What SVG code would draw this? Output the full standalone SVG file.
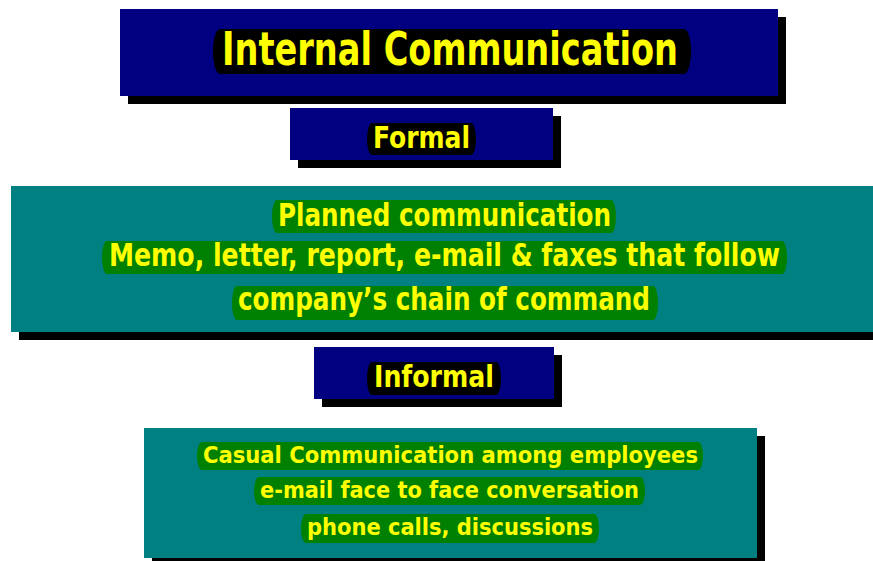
<svg xmlns="http://www.w3.org/2000/svg" width="873" height="561" viewBox="0 0 873 561">
<style>
.shadow{fill:#000000}
.navy{fill:#000080}
.teal{fill:#008080}
.hlb{fill:#000000}
.hlg{fill:#008000}
text{font-family:"Liberation Sans Narrow","DejaVu Sans Condensed","Liberation Sans",sans-serif;font-weight:bold;font-stretch:condensed;fill:#FFFF00;text-anchor:middle}
</style>
<rect x="0" y="0" width="873" height="561" fill="#FFFFFF"/>
<g id="title">
<rect class="shadow" x="128" y="17" width="658" height="87"/>
<rect class="navy" x="120" y="9" width="658" height="87"/>
<rect class="hlb" x="213" y="29" width="478" height="45" rx="7" ry="22.5"/>
<text x="450" y="65" font-size="46" textLength="456" lengthAdjust="spacingAndGlyphs">Internal Communication</text>
</g>
<g id="formal">
<rect class="shadow" x="298" y="116" width="263" height="52"/>
<rect class="navy" x="290" y="108" width="263" height="52"/>
<rect class="hlb" x="367" y="123" width="109" height="32" rx="5" ry="16"/>
<text x="421.5" y="148" font-size="30" textLength="97" lengthAdjust="spacingAndGlyphs">Formal</text>
</g>
<g id="formal-desc">
<rect class="shadow" x="19" y="194" width="862" height="146"/>
<rect class="teal" x="11" y="186" width="862" height="146"/>
<rect class="hlg" x="272" y="200" width="344" height="33" rx="5" ry="16.5"/>
<rect class="hlg" x="102" y="241" width="685" height="33" rx="5" ry="16.5"/>
<rect class="hlg" x="232" y="286" width="426" height="34" rx="5" ry="17"/>
<text x="444.5" y="226" font-size="32" textLength="333" lengthAdjust="spacingAndGlyphs">Planned communication</text>
<text x="444.5" y="266" font-size="32" textLength="671" lengthAdjust="spacingAndGlyphs">Memo, letter, report, e-mail &amp; faxes that follow</text>
<text x="444" y="310" font-size="32" textLength="412" lengthAdjust="spacingAndGlyphs">company’s chain of command</text>
</g>
<g id="informal">
<rect class="shadow" x="322" y="355" width="240" height="52"/>
<rect class="navy" x="314" y="347" width="240" height="52"/>
<rect class="hlb" x="367" y="362" width="134" height="33" rx="5" ry="16.5"/>
<text x="434" y="387" font-size="30" textLength="120" lengthAdjust="spacingAndGlyphs">Informal</text>
</g>
<g id="informal-desc">
<rect class="shadow" x="152" y="436" width="613" height="130"/>
<rect class="teal" x="144" y="428" width="613" height="130"/>
<rect class="hlg" x="197" y="442" width="506" height="28" rx="5" ry="14"/>
<rect class="hlg" x="254" y="477" width="391" height="28" rx="5" ry="14"/>
<rect class="hlg" x="301" y="514" width="298" height="29" rx="5" ry="14.5"/>
<text x="450.5" y="463" font-size="23" textLength="495" lengthAdjust="spacingAndGlyphs">Casual Communication among employees</text>
<text x="449.5" y="498" font-size="23" textLength="379" lengthAdjust="spacingAndGlyphs">e-mail face to face conversation</text>
<text x="450" y="535" font-size="23" textLength="286" lengthAdjust="spacingAndGlyphs">phone calls, discussions</text>
</g>
<g id="connectors"></g>
</svg>
